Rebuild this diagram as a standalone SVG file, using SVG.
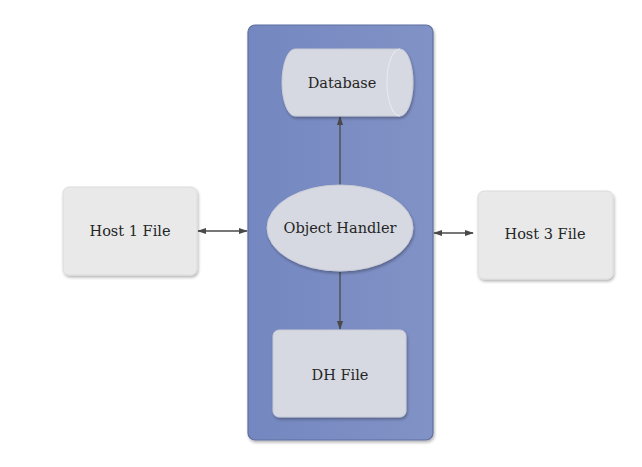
<svg xmlns="http://www.w3.org/2000/svg" width="642" height="467" viewBox="0 0 642 467">
<defs>
<filter id="sh" x="-10%" y="-10%" width="130%" height="130%">
<feGaussianBlur in="SourceAlpha" stdDeviation="1.5"/>
<feOffset dx="1" dy="2" result="b"/>
<feComponentTransfer><feFuncA type="linear" slope="0.3"/></feComponentTransfer>
<feMerge><feMergeNode/><feMergeNode in="SourceGraphic"/></feMerge>
</filter>
<linearGradient id="panel" x1="0" y1="0" x2="1" y2="0">
<stop offset="0" stop-color="#7487c0"/>
<stop offset="1" stop-color="#8192c6"/>
</linearGradient>
<marker id="ah" viewBox="0 0 10 10" refX="9" refY="5" markerWidth="7" markerHeight="7" orient="auto-start-reverse">
<path d="M0,1.5 L10,5 L0,8.5 Z" fill="#4a4a4a"/>
</marker>
</defs>
<style>
.outer{fill:#e9e9ea;stroke:#dcdcdc;stroke-width:1}
.inner{fill:#d6d9e1;stroke:#c9ccd6;stroke-width:1}
.lbl{font-family:"DejaVu Serif","Liberation Serif",serif;font-size:14.5px;fill:#252525;text-anchor:middle;dominant-baseline:central}
.conn{stroke:#4a4a4a;stroke-width:1.3;fill:none}
</style>
<rect x="0" y="0" width="642" height="467" fill="#ffffff"/>
<g id="panel-group">
<rect x="248" y="25" width="185" height="415" rx="7" fill="url(#panel)" stroke="#5f6f9f" stroke-width="1.2" filter="url(#sh)"/>
</g>
<g id="connectors">
<line class="conn" x1="340" y1="186" x2="340" y2="117" marker-end="url(#ah)"/>
<line class="conn" x1="340" y1="272" x2="340" y2="329" marker-end="url(#ah)"/>
<line class="conn" x1="198" y1="231" x2="247" y2="231" marker-start="url(#ah)" marker-end="url(#ah)"/>
<line class="conn" x1="434" y1="233" x2="473" y2="233" marker-start="url(#ah)" marker-end="url(#ah)"/>
</g>
<g id="database">
<path class="inner" d="M295,49 L400,49 A13,33.5 0 0 1 400,116 L295,116 A13,33.5 0 0 1 295,49 Z" filter="url(#sh)"/>
<path d="M400,49 A13,33.5 0 0 0 400,116" fill="none" stroke="#e6e8ee" stroke-width="1.2"/>
<text class="lbl" x="342" y="83">Database</text>
</g>
<g id="object-handler">
<ellipse class="inner" cx="340" cy="228" rx="73" ry="43" filter="url(#sh)"/>
<text class="lbl" x="340" y="228">Object Handler</text>
</g>
<g id="dh-file">
<rect class="inner" x="273" y="330" width="133" height="87" rx="6" filter="url(#sh)"/>
<text class="lbl" x="340" y="375">DH File</text>
</g>
<g id="host1">
<rect class="outer" x="63" y="187" width="134" height="88" rx="6" filter="url(#sh)"/>
<text class="lbl" x="130" y="231">Host 1 File</text>
</g>
<g id="host3">
<rect class="outer" x="478" y="191" width="135" height="88" rx="6" filter="url(#sh)"/>
<text class="lbl" x="545" y="234">Host 3 File</text>
</g>
</svg>
